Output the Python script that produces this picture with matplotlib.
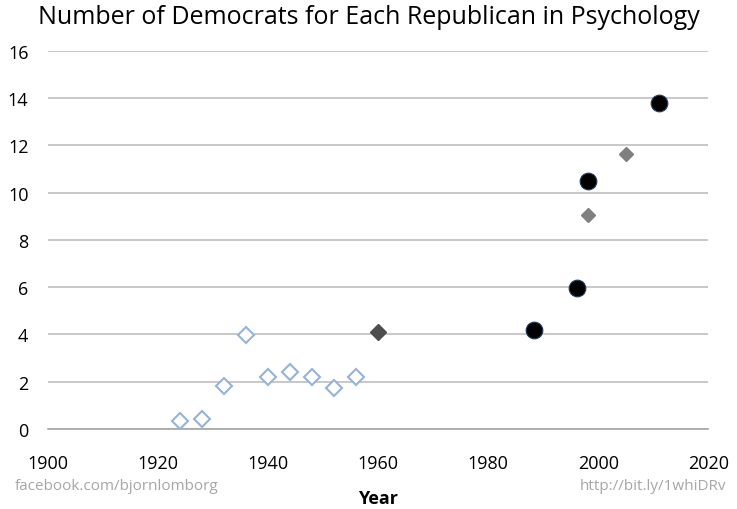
import matplotlib.pyplot as plt

# open diamonds (early surveys)
anni_early = [1924, 1928, 1932, 1936, 1940, 1944, 1948, 1952, 1956]
rapporto_early = [0.33, 0.43, 1.81, 3.97, 2.2, 2.4, 2.2, 1.75, 2.18]

# dark diamond
anni_dark = [1960]
rapporto_dark = [4.1]

# gray diamonds
anni_gray = [1998.2, 2005.1]
rapporto_gray = [9.05, 11.63]

# black circles
anni_circle = [1988.4, 1996.2, 1998.2, 2011.1]
rapporto_circle = [4.2, 5.97, 10.49, 13.8]

font = 'Open Sans'

fig = plt.figure(figsize=(7.37, 5.10), dpi=100)
ax = fig.add_axes([0.065, 0.157, 0.896, 0.741])

ax.plot(anni_early, rapporto_early, linestyle='none', marker='D', markersize=8.5,
        markerfacecolor='white', markeredgecolor='#95B3D7', markeredgewidth=1.5, zorder=3)
ax.plot(anni_dark, rapporto_dark, linestyle='none', marker='D', markersize=8,
        markerfacecolor='#4D4D4D', markeredgecolor='#4D4D4D', zorder=3)
ax.plot(anni_gray, rapporto_gray, linestyle='none', marker='D', markersize=7.5,
        markerfacecolor='#7F7F7F', markeredgecolor='#7F7F7F', zorder=3)
ax.plot(anni_circle, rapporto_circle, linestyle='none', marker='o', markersize=12,
        markerfacecolor='black', markeredgecolor='#1F3A5F', markeredgewidth=0.8, zorder=3)

ax.set_xlim(1900, 2020)
ax.set_ylim(0, 16)
ax.set_xticks(range(1900, 2021, 20))
ax.set_yticks(range(0, 17, 2))
ax.grid(True, axis='y', color='#C4C4C4', linewidth=1.3)
ax.set_axisbelow(True)
for s in ['top', 'right', 'left']:
    ax.spines[s].set_visible(False)
ax.spines['bottom'].set_color('#A6A6A6')
ax.spines['bottom'].set_linewidth(1.2)
ax.tick_params(axis='both', length=0, labelsize=13)
ax.tick_params(axis='x', pad=18)
ax.tick_params(axis='y', pad=14)
for lab in ax.get_xticklabels() + ax.get_yticklabels():
    lab.set_fontfamily(font)

ax.set_xlabel('Year', fontsize=13, fontweight='bold', fontfamily=font, labelpad=12)
fig.text(0.5, 0.965, 'Number of Democrats for Each Republican in Psychology',
         ha='center', va='center', fontsize=18, fontfamily=font)
fig.text(0.02, 0.047, 'facebook.com/bjornlomborg', ha='left', va='center',
         fontsize=11, color='#A6A6A6', fontfamily=font)
fig.text(0.985, 0.047, 'http://bit.ly/1whiDRv', ha='right', va='center',
         fontsize=11, color='#A6A6A6', fontfamily=font)

fig.savefig('out.png', dpi=100)
